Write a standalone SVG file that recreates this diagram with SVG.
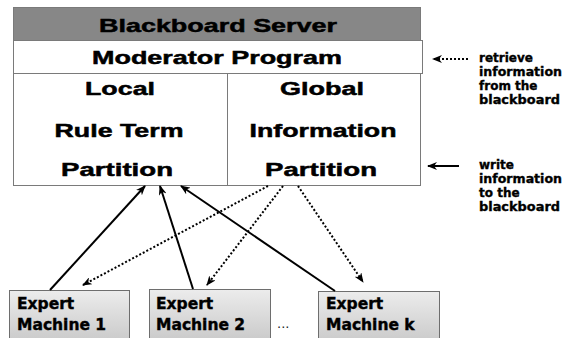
<svg xmlns="http://www.w3.org/2000/svg" width="564" height="338" viewBox="0 0 564 338">
  <style>
    .box { stroke: #7a7a7a; stroke-width: 1; }
    .big { font-family: "Liberation Sans", Arial, sans-serif; font-weight: bold; font-size: 19px; fill: #000; stroke: #000; stroke-width: 0.5; text-anchor: middle; }
    .side { font-family: "DejaVu Sans", Verdana, sans-serif; font-weight: bold; font-size: 12px; fill: #000; stroke: #000; stroke-width: 0.35; }
    .mach { font-family: "DejaVu Sans", Verdana, sans-serif; font-weight: bold; font-size: 15.5px; fill: #000; stroke: #000; stroke-width: 0.4; }
    .solid { stroke: #000; stroke-width: 2; fill: none; }
    .dot { stroke: #000; stroke-width: 2; fill: none; stroke-dasharray: 2 2; }
  </style>
  <defs>
    <marker id="ah" viewBox="0 0 10 8" refX="9" refY="4" markerWidth="10" markerHeight="8" markerUnits="userSpaceOnUse" orient="auto">
      <path d="M0,0 L10,4 L0,8 L3,4 z" fill="#000"/>
    </marker>
    <linearGradient id="mg" x1="0" y1="0" x2="0" y2="1">
      <stop offset="0" stop-color="#ececec"/>
      <stop offset="1" stop-color="#c4c4c4"/>
    </linearGradient>
  </defs>
  <rect width="564" height="338" fill="#fff"/>

  <g id="blackboard-server">
    <rect class="box" x="13.5" y="7.5" width="407" height="33" fill="#878787"/>
    <text class="big" x="218" y="32" textLength="238" lengthAdjust="spacingAndGlyphs">Blackboard Server</text>
  </g>
  <g id="moderator-program">
    <rect class="box" x="13.5" y="40.5" width="409" height="33" fill="#fff"/>
    <text class="big" x="217" y="64" textLength="250" lengthAdjust="spacingAndGlyphs">Moderator Program</text>
  </g>
  <g id="local-partition">
    <rect class="box" x="13.5" y="73.5" width="214" height="112" fill="#fff"/>
    <text class="big" x="120" y="95" textLength="70" lengthAdjust="spacingAndGlyphs">Local</text>
    <text class="big" x="119" y="137" textLength="129" lengthAdjust="spacingAndGlyphs">Rule Term</text>
    <text class="big" x="117" y="176" textLength="112" lengthAdjust="spacingAndGlyphs">Partition</text>
  </g>
  <g id="global-partition">
    <rect class="box" x="227.5" y="73.5" width="193" height="112" fill="#fff"/>
    <text class="big" x="322" y="95" textLength="84" lengthAdjust="spacingAndGlyphs">Global</text>
    <text class="big" x="323" y="137" textLength="147" lengthAdjust="spacingAndGlyphs">Information</text>
    <text class="big" x="321" y="176" textLength="112" lengthAdjust="spacingAndGlyphs">Partition</text>
  </g>

  <g id="retrieve-label">
    <text class="side" x="479" y="62">retrieve</text>
    <text class="side" x="479" y="76" textLength="83" lengthAdjust="spacingAndGlyphs">information</text>
    <text class="side" x="479" y="90">from the</text>
    <text class="side" x="479" y="104" textLength="81" lengthAdjust="spacingAndGlyphs">blackboard</text>
  </g>
  <g id="write-label">
    <text class="side" x="479" y="169">write</text>
    <text class="side" x="479" y="183" textLength="83" lengthAdjust="spacingAndGlyphs">information</text>
    <text class="side" x="479" y="197">to the</text>
    <text class="side" x="479" y="211" textLength="81" lengthAdjust="spacingAndGlyphs">blackboard</text>
  </g>

  <g id="expert-machine-1">
    <rect x="9.5" y="290.5" width="120" height="60" fill="url(#mg)" stroke="#6e6e6e" stroke-width="1"/>
    <text class="mach" x="17" y="309">Expert</text>
    <text class="mach" x="17" y="330">Machine 1</text>
  </g>
  <g id="expert-machine-2">
    <rect x="149.5" y="289.5" width="121" height="60" fill="url(#mg)" stroke="#6e6e6e" stroke-width="1"/>
    <text class="mach" x="156" y="309">Expert</text>
    <text class="mach" x="156" y="330">Machine 2</text>
  </g>
  <g id="ellipsis">
    <text x="277" y="328" font-family="DejaVu Sans, sans-serif" font-size="13px" fill="#222">...</text>
  </g>
  <g id="expert-machine-k">
    <rect x="318.5" y="291.5" width="121" height="60" fill="url(#mg)" stroke="#6e6e6e" stroke-width="1"/>
    <text class="mach" x="326" y="309">Expert</text>
    <text class="mach" x="326" y="330">Machine k</text>
  </g>

  <g id="connectors">
    <path class="solid" d="M50,290 L145,186" marker-end="url(#ah)"/>
    <path class="solid" d="M193,289 L160,186" marker-end="url(#ah)"/>
    <path class="solid" d="M335,291 L181,186" marker-end="url(#ah)"/>
    <path class="dot" d="M268,186 L83,285" marker-end="url(#ah)"/>
    <path class="dot" d="M283,186 L207,285" marker-end="url(#ah)"/>
    <path class="dot" d="M298,186 L363,282" marker-end="url(#ah)"/>
    <path class="dot" d="M468,59 L433,59" marker-end="url(#ah)"/>
    <path class="solid" d="M459,166 L428,166" stroke-width="1.5" marker-end="url(#ah)"/>
  </g>
</svg>
